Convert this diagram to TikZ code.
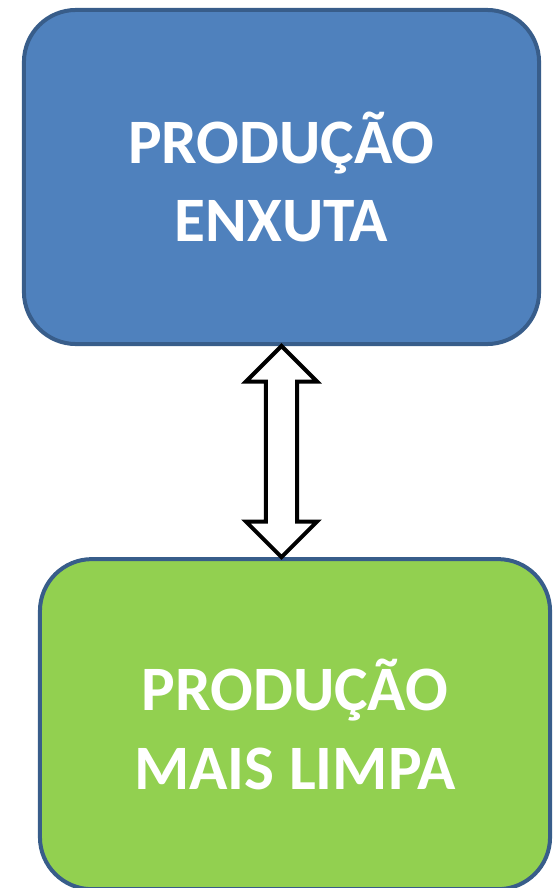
\documentclass[tikz,border=0pt]{standalone}
\usepackage{fontspec}
\setmainfont{Carlito}
\usepackage{xcolor}
\definecolor{colorLean}{HTML}{4F81BD}
\definecolor{colorClean}{HTML}{92D050}
\definecolor{colorBorder}{HTML}{385D8A}
\usetikzlibrary{positioning, shapes.arrows, calc}
\tikzset{box/.style={draw=colorBorder, line width=0.1cm, rounded corners=1.3cm, text=white, align=center, font=\fontsize{45}{56}\selectfont\bfseries}}

\begin{document}
\begin{tikzpicture}[x=0.025cm, y=-0.025cm, node distance=5.275cm]
\useasboundingbox (0,0) rectangle (553,888);
\node[box, fill=colorLean, minimum width=12.875cm, minimum height=8.35cm] (lean) at (281.5,177) {PRODUÇÃO\\ENXUTA};
\node[box, fill=colorClean, minimum width=12.75cm, minimum height=8.25cm, below=of lean, xshift=0.3375cm] (clean) {PRODUÇÃO\\MAIS LIMPA};
\node[double arrow, draw=black, fill=white, line width=0.1cm, rotate=90, inner xsep=0pt, inner ysep=0.3375cm, minimum height=5.275cm, double arrow head extend=0.5cm] (link) at ($(lean.south)!.5!(lean.south |- clean.north)$) {};
\end{tikzpicture}
\end{document}
